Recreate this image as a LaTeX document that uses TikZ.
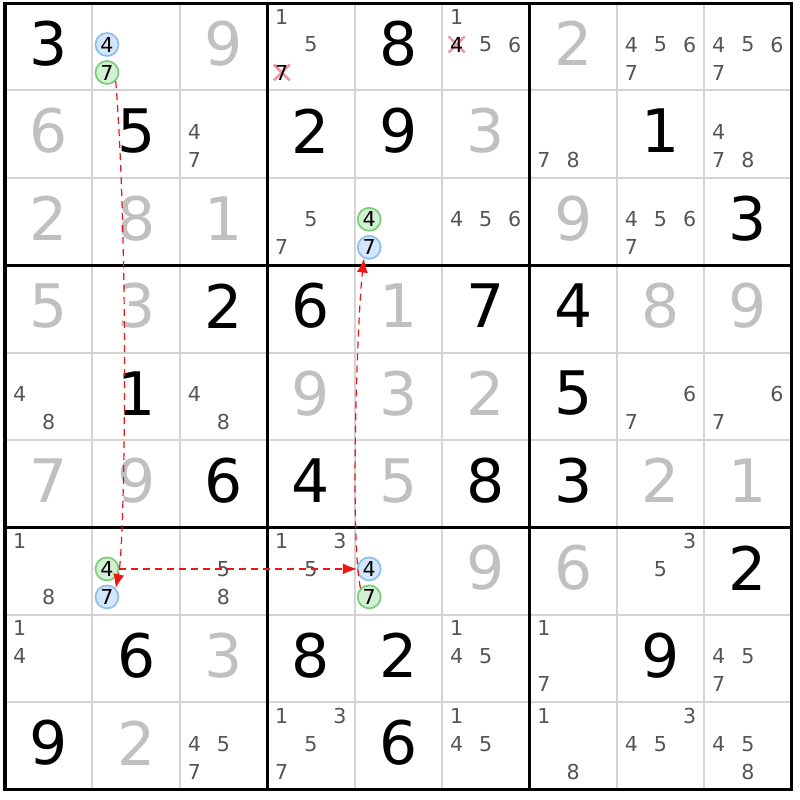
\documentclass[tikz,border=0pt]{standalone}
\usepackage{fontspec}
\setmainfont{DejaVu Sans}
\usetikzlibrary{arrows.meta}
\definecolor{givgray}{RGB}{192,192,192}
\definecolor{candgray}{RGB}{85,85,85}
\definecolor{thingrid}{RGB}{212,212,212}
\definecolor{bfill}{RGB}{212,230,250}
\definecolor{bline}{RGB}{140,190,240}
\definecolor{gfill}{RGB}{212,240,212}
\definecolor{gline}{RGB}{120,205,120}
\definecolor{xcol}{RGB}{240,150,160}
\definecolor{arrred}{RGB}{240,20,20}
\tikzset{
  bigdig/.style={font=\fontsize{30}{31}\selectfont, inner sep=0pt},
  solved/.style={bigdig, text=black},
  given/.style={bigdig, text=givgray},
  cand/.style={font=\fontsize{10.3}{11}\selectfont, inner sep=0pt, text=candgray},
  crossdig/.style={font=\fontsize{10.3}{11}\selectfont, inner sep=0pt, text=black},
  bluec/.style={circle, draw=bline, fill=bfill, line width=0.85pt, minimum size=11.5pt, inner sep=0pt, font=\fontsize{10.3}{11}\selectfont, text=black},
  greenc/.style={circle, draw=gline, fill=gfill, line width=0.85pt, minimum size=11.5pt, inner sep=0pt, font=\fontsize{10.3}{11}\selectfont, text=black},
  chain/.style={draw=arrred, dash pattern=on 3.5pt off 2.5pt, line width=0.6pt, -{Latex[length=7pt,width=5.5pt]}},
  xmark/.style={draw=xcol, line width=1.3pt},
  thinline/.style={draw=thingrid, line width=1pt},
  thickline/.style={draw=black, line width=1.5pt},
}
\newcommand\BigD[4]{\node[#1] (n#2#3) at ({5+(#3-0.5)*87.4},{3+(#2-0.5)*87.4-3}) {#4};}
\newcommand\Cands[3]{\foreach \d in {#3}{\node[cand] (k#1#2\d) at ({5+(#2-1)*87.4+14.6+29.1*mod(\d-1,3)},{3+(#1-1)*87.4+13.5+28*floor((\d-1)/3)}) {\d};}}
\newcommand\Mark[5]{\node[#1] (#2) at ({5+(#4-1)*87.4+14.6+29.1*mod(#5-1,3)},{3+(#3-1)*87.4+13.5+28*floor((#5-1)/3)}) {#5};}
\newcommand\Cross[3]{\coordinate (x#1#2#3) at ({5+(#2-1)*87.4+14.6+29.1*mod(#3-1,3)},{3+(#1-1)*87.4+13.5+28*floor((#3-1)/3)});
  \draw[xmark] ([shift={(-8,-8)}]x#1#2#3) -- ([shift={(8,8)}]x#1#2#3);
  \draw[xmark] ([shift={(-8,8)}]x#1#2#3) -- ([shift={(8,-8)}]x#1#2#3);
  \node[crossdig] (k#1#2#3) at (x#1#2#3) {#3};}
\begin{document}
\begin{tikzpicture}[x=0.5pt,y=-0.5pt]
\useasboundingbox (0,0) rectangle (800,800);
\fill[white] (0,0) rectangle (800,800);
% grid
\foreach \i in {1,2,4,5,7,8} {
  \draw[thinline] ({5+\i*87.4},3) -- ({5+\i*87.4},789.6);
  \draw[thinline] (5,{3+\i*87.4}) -- (791.6,{3+\i*87.4});
}
\foreach \i in {3,6} {
  \draw[thickline] ({5+\i*87.4},3) -- ({5+\i*87.4},789.6);
  \draw[thickline] (5,{3+\i*87.4}) -- (791.6,{3+\i*87.4});
}
\draw[thickline] (5,3) rectangle (791.6,789.6);
% row 1
\BigD{solved}{1}{1}{3}
\Mark{bluec}{b124}{1}{2}{4}
\Mark{greenc}{g127}{1}{2}{7}
\BigD{given}{1}{3}{9}
\Cands{1}{4}{1,5}
\Cross{1}{4}{7}
\BigD{solved}{1}{5}{8}
\Cands{1}{6}{1,5,6}
\Cross{1}{6}{4}
\BigD{given}{1}{7}{2}
\Cands{1}{8}{4,5,6,7}
\Cands{1}{9}{4,5,6,7}
% row 2
\BigD{given}{2}{1}{6}
\BigD{solved}{2}{2}{5}
\Cands{2}{3}{4,7}
\BigD{solved}{2}{4}{2}
\BigD{solved}{2}{5}{9}
\BigD{given}{2}{6}{3}
\Cands{2}{7}{7,8}
\BigD{solved}{2}{8}{1}
\Cands{2}{9}{4,7,8}
% row 3
\BigD{given}{3}{1}{2}
\BigD{given}{3}{2}{8}
\BigD{given}{3}{3}{1}
\Cands{3}{4}{5,7}
\Mark{greenc}{g354}{3}{5}{4}
\Mark{bluec}{b357}{3}{5}{7}
\Cands{3}{6}{4,5,6}
\BigD{given}{3}{7}{9}
\Cands{3}{8}{4,5,6,7}
\BigD{solved}{3}{9}{3}
% row 4
\BigD{given}{4}{1}{5}
\BigD{given}{4}{2}{3}
\BigD{solved}{4}{3}{2}
\BigD{solved}{4}{4}{6}
\BigD{given}{4}{5}{1}
\BigD{solved}{4}{6}{7}
\BigD{solved}{4}{7}{4}
\BigD{given}{4}{8}{8}
\BigD{given}{4}{9}{9}
% row 5
\Cands{5}{1}{4,8}
\BigD{solved}{5}{2}{1}
\Cands{5}{3}{4,8}
\BigD{given}{5}{4}{9}
\BigD{given}{5}{5}{3}
\BigD{given}{5}{6}{2}
\BigD{solved}{5}{7}{5}
\Cands{5}{8}{6,7}
\Cands{5}{9}{6,7}
% row 6
\BigD{given}{6}{1}{7}
\BigD{given}{6}{2}{9}
\BigD{solved}{6}{3}{6}
\BigD{solved}{6}{4}{4}
\BigD{given}{6}{5}{5}
\BigD{solved}{6}{6}{8}
\BigD{solved}{6}{7}{3}
\BigD{given}{6}{8}{2}
\BigD{given}{6}{9}{1}
% row 7
\Cands{7}{1}{1,8}
\Mark{greenc}{g724}{7}{2}{4}
\Mark{bluec}{b727}{7}{2}{7}
\Cands{7}{3}{5,8}
\Cands{7}{4}{1,3,5}
\Mark{bluec}{b754}{7}{5}{4}
\Mark{greenc}{g757}{7}{5}{7}
\BigD{given}{7}{6}{9}
\BigD{given}{7}{7}{6}
\Cands{7}{8}{3,5}
\BigD{solved}{7}{9}{2}
% row 8
\Cands{8}{1}{1,4}
\BigD{solved}{8}{2}{6}
\BigD{given}{8}{3}{3}
\BigD{solved}{8}{4}{8}
\BigD{solved}{8}{5}{2}
\Cands{8}{6}{1,4,5}
\Cands{8}{7}{1,7}
\BigD{solved}{8}{8}{9}
\Cands{8}{9}{4,5,7}
% row 9
\BigD{solved}{9}{1}{9}
\BigD{given}{9}{2}{2}
\Cands{9}{3}{4,5,7}
\Cands{9}{4}{1,3,5,7}
\BigD{solved}{9}{5}{6}
\Cands{9}{6}{1,4,5}
\Cands{9}{7}{1,8}
\Cands{9}{8}{3,4,5}
\Cands{9}{9}{4,5,8}
% chain
\draw[chain] (g127.-45) .. controls (129,250) and (125,545) .. (b727.45);
\draw[chain] (g724.east) -- (b754.west);
\draw[chain] (g757.135) .. controls (350,540) and (357,320) .. (b357.-115);
\end{tikzpicture}
\end{document}
